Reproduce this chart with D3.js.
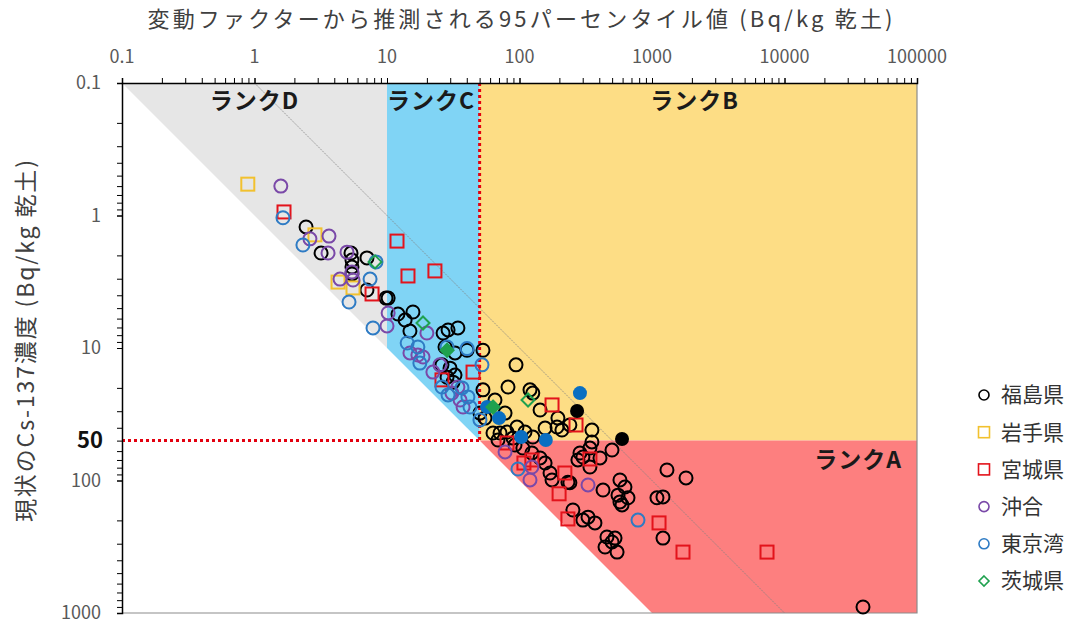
<!DOCTYPE html>
<html lang="ja">
<head>
<meta charset="utf-8">
<script src="https://cdn.jsdelivr.net/npm/d3@7"></script>
<style>
  html, body { margin: 0; padding: 0; background: #fff; }
  svg { display: block; font-family: "Noto Sans CJK JP", "Noto Sans", sans-serif; }
</style>
</head>
<body>
<svg id="chart" width="1078" height="626"></svg>
<script>
// 95th-percentile estimate (x) vs. present Cs-137 concentration (y), Bq/kg dry soil
const fukushima = [
  [2.45,1.22],[3.18,1.92],[5.35,1.92],[5.44,2.17],[5.44,2.45],[5.44,2.76],[7.06,2.09],[7.06,3.65],
  [9.83,4.20],[10.2,4.20],[12.1,5.54],[13.7,6.15],[15.7,5.35],[14.9,7.45],[26.5,7.71],[28.9,7.31],
  [34.3,7.06],[27.4,9.83],[32.6,10.9],[40.2,10.4],[26.0,13.4],[29.9,14.2],[28.4,16.6],[32.6,16.0],
  [31.5,18.1],[53.0,10.4],[53.0,20.7],[50.3,31.0],[65.3,24.7],[94.1,13.4],[81.9,19.7],[120,20.7],
  [126,21.9],[143,29.4],[195,33.8],[156,40.2],[95.7,39.5],[77.8,31.0],[63.1,43.8],[54.9,33.8],
  [209,41.6],[240,38.1],[352,41.6],[352,51.2],[80.5,43.1],[126,47.0],[68.8,49.5],[92.5,54.0],
  [71.3,43.8],[89.3,47.8],[110,43.1],[192,39.5],[106,56.9],[124,62.0],[143,67.6],[156,73.8],
  [170,87.8],[176,99.1],[232,103],[286,62.0],[276,70.0],[301,66.5],[340,56.9],[405,67.6],
  [340,79.1],[499,58.9],[427,118],[573,99.1],[625,112],[554,129],[659,135],[573,145],
  [594,153],[253,167],[329,189],[371,209],[301,199],[457,267],[499,291],[526,272],
  [442,318],[545,347],[1090,135],[1210,133],[1297,83.3],[1806,95.7],[1210,272],[39130,901],
  [240,104]
];
const fukushimaFilled = [[272,29.9],[594,48.6]];
const iwate = [[0.89,0.58],[2.86,1.40],[4.27,3.18],[5.54,3.52]];
const miyagi = [
  [1.67,0.94],[11.9,1.56],[14.4,2.86],[23.0,2.62],[7.71,3.91],[44.6,15.2],[26.0,17.4],[176,26.9],
  [267,38.1],[340,68.8],[80.5,52.1],[108,73.8],[124,70.0],[220,87.8],[199,126],[232,195],
  [1130,209],[1714,347],[7380,347]
];
const offshore = [
  [1.58,0.60],[2.62,1.50],[3.65,1.43],[3.59,1.92],[4.99,1.89],[4.42,3.02],[5.54,3.07],[5.44,2.67],
  [10.2,5.44],[10.0,6.82],[20.0,7.71],[14.9,10.9],[17.1,11.3],[18.7,11.7],[22.2,15.2],[25.1,13.4],
  [30.9,21.9],[35.6,24.7],[37.5,27.9],[34.3,19.7],[77.8,60.9],[120,99.1],[124,79.1],[329,108]
];
const tokyoBay = [
  [1.64,1.04],[2.32,1.67],[8.26,2.24],[7.45,3.02],[5.17,4.50],[7.84,7.06],[14.2,9.17],[17.1,9.83],
  [17.7,13.0],[28.4,9.83],[40.2,10.1],[28.9,22.6],[36.8,20.0],[40.8,23.4],[42.3,27.9],[52.1,13.4],
  [50.3,34.9],[97.4,81.9],[784,199],[26.0,19.7]
];
const tokyoBayFilled = [[286,21.9],[70.0,33.8],[103,47.0],[158,49.5],[56.9,27.9]];
const ibaraki = [[8.12,2.24],[18.7,6.48],[116,24.7]];
const ibarakiFilled = [[28.4,10.4],[63.1,27.9]];

const xTicks = [0.1, 1, 10, 100, 1000, 10000, 100000];
const yTicks = [0.1, 1, 10, 100, 1000];
const threshold = 50;
const legendNames = ["福島県", "岩手県", "宮城県", "沖合", "東京湾", "茨城県"];
const rankNames = ["ランクA", "ランクB", "ランクC", "ランクD"];
const xTitle = "変動ファクターから推測される95パーセンタイル値 (Bq/kg 乾土)";
const yTitle = "現状のCs-137濃度 (Bq/kg 乾土)";

const svg = d3.select("#chart");
const plotL = 122, plotR = 917, plotT = 83, plotB = 613;

const x = d3.scaleLog().domain([0.1, 100000]).range([plotL, plotR]);
const y = d3.scaleLog().domain([0.1, 1000]).range([plotT, plotB]);

const xMin = 0.1, xMax = 100000, yMin = 0.1, yMax = 1000;
const poly = pts => pts.map(([a, b]) => [x(a), y(b)].join(",")).join(" ");

// rank areas, all on the side where the present value is below the 95th percentile
const zones = [
  { pts: [[xMin, yMin], [10, yMin], [10, 10]], fill: "#e6e6e6" },
  { pts: [[10, yMin], [threshold, yMin], [threshold, threshold], [10, 10]], fill: "#80d4f5" },
  { pts: [[threshold, yMin], [xMax, yMin], [xMax, threshold], [threshold, threshold]], fill: "#fddd85" },
  { pts: [[threshold, threshold], [xMax, threshold], [xMax, yMax], [yMax, yMax]], fill: "#fd7f7f" }
];
svg.append("g").selectAll("polygon").data(zones).join("polygon")
  .attr("points", d => poly(d.pts)).attr("fill", d => d.fill);

// frame on the right and bottom
svg.append("path")
  .attr("d", `M${x(xMax)},${y(yMin)}V${y(yMax)}H${x(xMin)}`)
  .attr("fill", "none").attr("stroke", "#8c8c8c").attr("stroke-width", 1.2);

// one-tenth reference line
svg.append("line")
  .attr("x1", x(1)).attr("y1", y(0.1)).attr("x2", x(10000)).attr("y2", y(1000))
  .attr("stroke", "#7f7f7f").attr("stroke-width", 0.7).attr("stroke-dasharray", "2,1");

// rank labels
const rankPos = [[36000, 72], [2100, 0.142], [21.5, 0.142], [1.0, 0.142]];
svg.append("g").selectAll("text").data(rankNames).join("text")
  .attr("x", (d, i) => x(rankPos[i][0])).attr("y", (d, i) => y(rankPos[i][1]))
  .attr("text-anchor", "middle").attr("dominant-baseline", "middle")
  .attr("font-size", 23).attr("font-weight", "bold").attr("fill", "#1a1a1a")
  .attr("letter-spacing", 1)
  .text(d => d);

// threshold lines at 50
const redDots = { stroke: "#e3000f", "stroke-width": 3, "stroke-dasharray": "3,3" };
const hLine = svg.append("line").attr("x1", x(xMin)).attr("x2", x(threshold))
  .attr("y1", y(threshold)).attr("y2", y(threshold));
const vLine = svg.append("line").attr("x1", x(threshold)).attr("x2", x(threshold))
  .attr("y1", y(yMin)).attr("y2", y(threshold));
for (const ln of [hLine, vLine]) for (const k in redDots) ln.attr(k, redDots[k]);

// axes
const minorTicks = (lo, hi) => {
  const out = [];
  for (let e = Math.round(Math.log10(lo)); e < Math.round(Math.log10(hi)); e++)
    for (let m = 1; m <= 10; m++) out.push(+(m * Math.pow(10, e)).toPrecision(6));
  return out;
};
const xAxis = svg.append("g").attr("transform", `translate(0,${plotT})`)
  .call(d3.axisTop(x).tickValues(minorTicks(xMin, xMax)).tickSize(5).tickFormat(""));
const yAxis = svg.append("g").attr("transform", `translate(${plotL},0)`)
  .call(d3.axisLeft(y).tickValues(minorTicks(yMin, yMax)).tickSize(5).tickFormat(""));
for (const ax of [xAxis, yAxis]) {
  ax.select(".domain").attr("stroke", "#000").attr("stroke-width", 1.5);
  ax.selectAll(".tick line").attr("stroke", "#000").attr("stroke-width", 1);
}
const fmt = v => String(v);
svg.append("g").selectAll("text").data(xTicks).join("text")
  .attr("x", d => x(d)).attr("y", 63).attr("text-anchor", "middle")
  .attr("font-size", 18).attr("fill", "#595959").text(fmt);
svg.append("g").selectAll("text").data(yTicks).join("text")
  .attr("x", 101).attr("y", d => y(d)).attr("dy", "0.35em").attr("text-anchor", "end")
  .attr("font-size", 18).attr("fill", "#595959").text(fmt);
svg.append("text").attr("x", 103).attr("y", y(threshold)).attr("dy", "0.35em")
  .attr("text-anchor", "end").attr("font-size", 22).attr("font-weight", "bold")
  .attr("fill", "#111").text(threshold);

// titles
svg.append("text").attr("x", 520).attr("y", 27).attr("text-anchor", "middle")
  .attr("font-size", 22).attr("fill", "#404040")
  .attr("textLength", 745).attr("lengthAdjust", "spacing").text(xTitle);
svg.append("text").attr("transform", "translate(28,341) rotate(-90)")
  .attr("text-anchor", "middle").attr("dominant-baseline", "middle")
  .attr("font-size", 23).attr("fill", "#404040")
  .attr("textLength", 362).attr("lengthAdjust", "spacing").text(yTitle);

// markers
const R = 6.5;
function circles(data, color, filled) {
  svg.append("g").selectAll("circle").data(data).join("circle")
    .attr("cx", d => x(d[0])).attr("cy", d => y(d[1])).attr("r", filled ? 7 : R)
    .attr("fill", filled ? color : "none").attr("stroke", filled ? "none" : color)
    .attr("stroke-width", 2);
}
function squares(data, color) {
  svg.append("g").selectAll("rect").data(data).join("rect")
    .attr("x", d => x(d[0]) - 6.5).attr("y", d => y(d[1]) - 6.5)
    .attr("width", 13).attr("height", 13)
    .attr("fill", "none").attr("stroke", color).attr("stroke-width", 2);
}
function diamonds(data, color, filled) {
  svg.append("g").selectAll("path").data(data).join("path")
    .attr("d", d => { const cx = x(d[0]), cy = y(d[1]), s = 6.5;
      return `M${cx},${cy - s}L${cx + s},${cy}L${cx},${cy + s}L${cx - s},${cy}Z`; })
    .attr("fill", filled ? color : "none").attr("stroke", color).attr("stroke-width", 2);
}
const colors = ["#000000", "#f2c12e", "#e3131b", "#7a49a8", "#2e7bc4", "#1fa14f"];
circles(fukushima, colors[0], false);
squares(iwate, colors[1]);
squares(miyagi, colors[2]);
circles(offshore, colors[3], false);
circles(tokyoBay, colors[4], false);
diamonds(ibaraki, colors[5], false);
circles(tokyoBayFilled, "#0a6fc2", true);
circles(fukushimaFilled, colors[0], true);
diamonds(ibarakiFilled, colors[5], true);

// legend
const shapes = ["circle", "square", "square", "circle", "circle", "diamond"];
const lg = svg.append("g").selectAll("g").data(legendNames).join("g")
  .attr("transform", (d, i) => `translate(984,${395 + i * 37.2})`);
lg.each(function (d, i) {
  const g = d3.select(this);
  if (shapes[i] === "circle")
    g.append("circle").attr("r", 5).attr("fill", "none").attr("stroke", colors[i]).attr("stroke-width", 1.6);
  else if (shapes[i] === "square")
    g.append("rect").attr("x", -5.5).attr("y", -5.5).attr("width", 11).attr("height", 11)
      .attr("fill", "none").attr("stroke", colors[i]).attr("stroke-width", 1.6);
  else
    g.append("path").attr("d", "M0,-5L5,0L0,5L-5,0Z").attr("fill", "none")
      .attr("stroke", colors[i]).attr("stroke-width", 1.6);
  g.append("text").attr("x", 17).attr("dy", "0.35em").attr("font-size", 21)
    .attr("fill", "#333").text(d);
});
</script>
</body>
</html>
